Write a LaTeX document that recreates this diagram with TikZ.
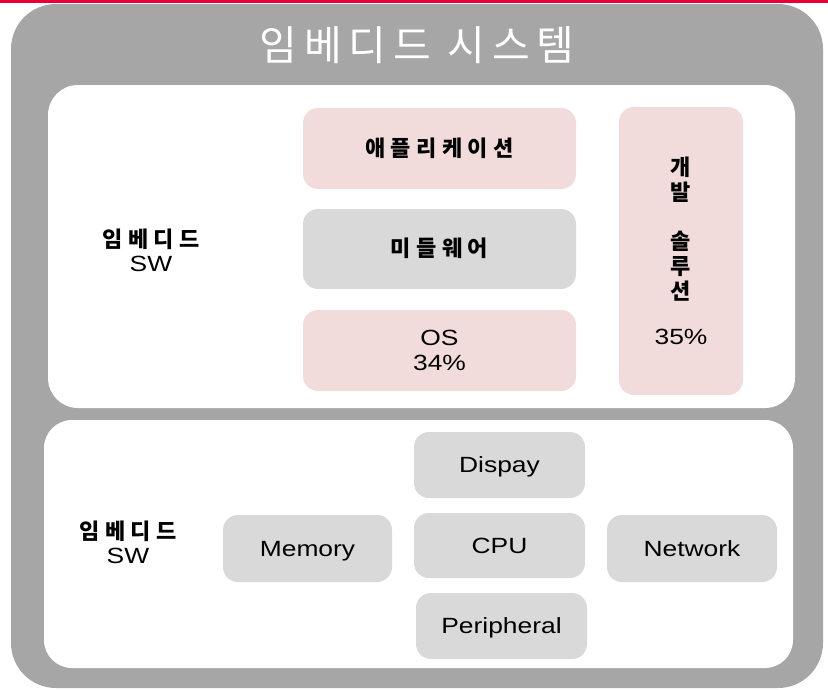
\documentclass[tikz,border=0pt]{standalone}
\usepackage{fontspec}
\setmainfont{Liberation Sans}[FakeStretch=1.2]
\newfontfamily\kr{Noto Sans CJK KR}[LetterSpace=25]
\newfontfamily\krt{Noto Sans CJK KR}[LetterSpace=17]
\newcommand\Kb{\kr\bfseries\fontsize{22}{26.5}\selectfont}
\definecolor{redline}{HTML}{E8003A}
\definecolor{outergray}{HTML}{A6A6A6}
\definecolor{pinkfill}{HTML}{F2DCDB}
\definecolor{boxgray}{HTML}{D9D9D9}
\tikzset{
  panel/.style={fill=white, draw=none, rounded corners=30pt, inner sep=0pt},
  pinkbox/.style={fill=pinkfill, draw=none, rounded corners=15pt, inner sep=0pt, align=center,
    font=\fontsize{22}{25}\selectfont},
  graybox/.style={fill=boxgray, draw=none, rounded corners=15pt, inner sep=0pt, align=center,
    font=\fontsize{22}{25}\selectfont, text height=15.8pt, text depth=0pt},
  lbl/.style={align=center, inner sep=0pt, font=\fontsize{22}{24}\selectfont},
}
\begin{document}
\begin{tikzpicture}[x=1pt, y=-1pt]
\useasboundingbox (0,0) rectangle (828,689);
\fill[white] (0,0) rectangle (828,689);
% red top line
\fill[redline] (0,0) rectangle (828,3.2);
% outer gray box
\node[fill=outergray, draw=none, rounded corners=45pt, inner sep=0pt,
      minimum width=812pt, minimum height=684pt] (outer) at (417,346) {};
\node[font=\krt\fontsize{41}{44}\selectfont, text=white, inner sep=0pt] (title) at (417,45) {임베디드 시스템};
% panels
\node[panel, minimum width=747pt, minimum height=323pt] (upper) at (421.5,246.5) {};
\node[panel, rounded corners=28pt, minimum width=749pt, minimum height=248pt] (lower) at (418.5,544) {};
% upper content
\node[lbl] (swup) at (151,250) {{\Kb 임베디드}\\SW};
\node[pinkbox, minimum width=273pt, minimum height=81pt] (app) at (439.5,148.5) {\Kb 애플리케이션};
\node[graybox, minimum width=273pt, minimum height=80pt, text height=17pt, text depth=2pt] (mid) at (439.5,249) {\Kb 미들웨어};
\node[pinkbox, minimum width=273pt, minimum height=81pt] (os) at (439.5,350.5) {OS\\34\%};
\node[pinkbox, minimum width=124pt, minimum height=288pt] (dev) at (681,251)
  {\Kb 개\\\Kb 발\\[24pt]\Kb 솔\\\Kb 루\\\Kb 션\\[20pt]35\%};
% lower content
\node[lbl] (swlow) at (128,542) {{\Kb 임베디드}\\SW};
\node[graybox, minimum width=171pt, minimum height=66pt] (disp) at (499.5,465) {Dispay};
\node[graybox, minimum width=171pt, minimum height=65pt] (cpu) at (499.5,545.5) {CPU};
\node[graybox, minimum width=171pt, minimum height=66pt] (peri) at (501.5,626) {Peripheral};
\node[graybox, minimum width=169pt, minimum height=67pt] (mem) at (307.5,548.5) {Memory};
\node[graybox, minimum width=170pt, minimum height=67pt] (net) at (692,548.5) {Network};
\end{tikzpicture}
\end{document}
